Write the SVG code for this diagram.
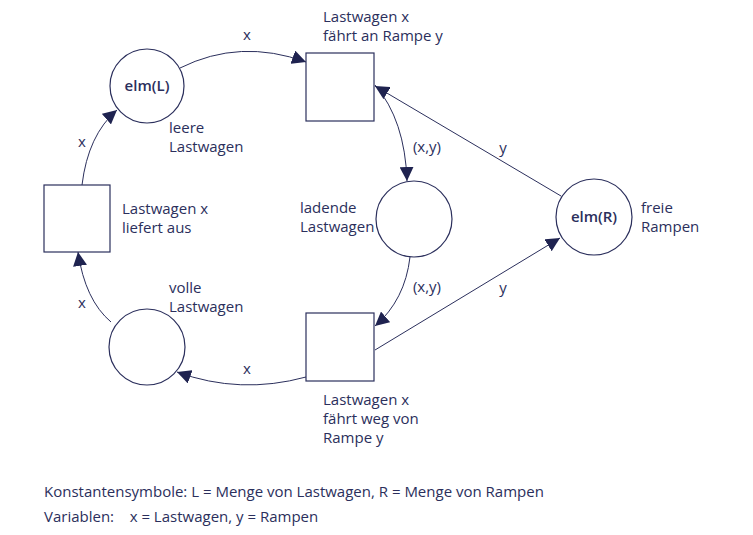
<svg xmlns="http://www.w3.org/2000/svg" width="753" height="535" viewBox="0 0 753 535">
<style>
.n{fill:#fff;stroke:#2b2f5c;stroke-width:1.2}
.c{fill:none;stroke:#2b2f5c;stroke-width:1}
text{font-family:"Open Sans","Noto Sans",sans-serif;font-size:15px;fill:#2b2f5c}
.b{font-weight:600;text-anchor:middle}
</style>
<defs><marker id="a" viewBox="0 0 10 10" refX="10" refY="5" markerWidth="14" markerHeight="14" markerUnits="userSpaceOnUse" orient="auto"><path d="M0,0L10,5L0,10z" fill="#1f2350"/></marker></defs>
<rect width="753" height="535" fill="#fff"/>
<g id="connectors">
<path class="c" marker-end="url(#a)" d="M180,68Q240,38 306,62"/>
<path class="c" marker-end="url(#a)" d="M375,85Q405,120 407,181"/>
<path class="c" marker-end="url(#a)" d="M561,196L375,86"/>
<path class="c" marker-end="url(#a)" d="M410,257Q405,300 375,326"/>
<path class="c" marker-end="url(#a)" d="M375,350L560,238"/>
<path class="c" marker-end="url(#a)" d="M306,377Q240,395 177,372"/>
<path class="c" marker-end="url(#a)" d="M111,322Q85,300 78,252"/>
<path class="c" marker-end="url(#a)" d="M82,185Q88,135 117,110"/>
<text x="247" y="40" text-anchor="middle">x</text>
<text x="427" y="152" text-anchor="middle">(x,y)</text>
<text x="503" y="153" text-anchor="middle">y</text>
<text x="427" y="292" text-anchor="middle">(x,y)</text>
<text x="503" y="293" text-anchor="middle">y</text>
<text x="247" y="374" text-anchor="middle">x</text>
<text x="82" y="308" text-anchor="middle">x</text>
<text x="82" y="147" text-anchor="middle">x</text>
</g>
<g id="elmL"><circle class="n" cx="147" cy="86" r="37"/><text class="b" x="147" y="91">elm(L)</text><text x="169" y="133">leere</text><text x="169" y="152">Lastwagen</text></g>
<g id="t1"><rect class="n" x="306" y="53" width="68" height="68"/><text x="323" y="22">Lastwagen x</text><text x="323" y="41">fährt an Rampe y</text></g>
<g id="ladende"><circle class="n" cx="414" cy="219" r="38"/><text x="300" y="213">ladende</text><text x="300" y="232">Lastwagen</text></g>
<g id="elmR"><circle class="n" cx="594" cy="217" r="38"/><text class="b" x="594" y="222">elm(R)</text><text x="641" y="213">freie</text><text x="641" y="232">Rampen</text></g>
<g id="t2"><rect class="n" x="306" y="313" width="68" height="68"/><text x="323" y="405">Lastwagen x</text><text x="323" y="424">fährt weg von</text><text x="323" y="443">Rampe y</text></g>
<g id="volle"><circle class="n" cx="147" cy="347" r="38"/><text x="169" y="293">volle</text><text x="169" y="312">Lastwagen</text></g>
<g id="t3"><rect class="n" x="44" y="185" width="66" height="67"/><text x="122" y="214">Lastwagen x</text><text x="122" y="233">liefert aus</text></g>
<text x="44" y="497">Konstantensymbole:    L = Menge von Lastwagen, R = Menge von Rampen</text>
<text x="44" y="522" xml:space="preserve">Variablen:    x = Lastwagen, y = Rampen</text>
</svg>
